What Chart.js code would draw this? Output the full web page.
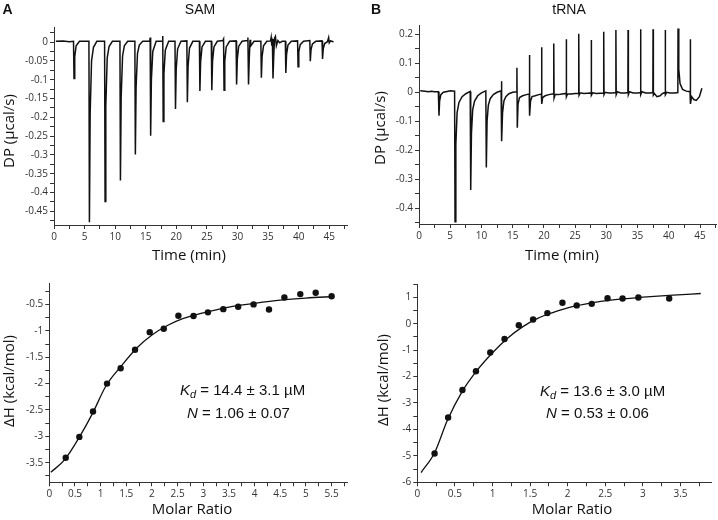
<!DOCTYPE html>
<html>
<head>
<meta charset="utf-8">
<script src="https://cdn.jsdelivr.net/npm/chart.js@4.4.1/dist/chart.umd.min.js"></script>
<style>
  body { margin: 0; background: #fff; }
  #fig { position: relative; width: 718px; height: 520px; overflow: hidden; font-family: 'Open Sans', sans-serif; color: #111; }
  canvas { position: absolute; }
  .lbl { position: absolute; white-space: nowrap; line-height: 1; transform: translate(-50%, -50%); }
  .rot { transform: translate(-50%, -50%) rotate(-90deg); }
  .letter { font-family: 'Liberation Sans', sans-serif; font-weight: bold; font-size: 14px; }
  .head { font-family: 'Liberation Sans', sans-serif; font-size: 14px; }
  .axt { font-size: 15px; }
  .fit { position: absolute; white-space: nowrap; line-height: 1; transform: translateY(-50%); font-family: 'Liberation Sans', sans-serif; font-size: 15px; }
  .fit span { font-size: 11px; position: relative; top: 3px; }
</style>
</head>
<body>
<div id="fig">
  <canvas id="samRaw" width="359" height="260" style="left:0;top:0"></canvas>
  <canvas id="trnaRaw" width="359" height="260" style="left:359px;top:0"></canvas>
  <canvas id="samFit" width="359" height="260" style="left:0;top:260px"></canvas>
  <canvas id="trnaFit" width="359" height="260" style="left:359px;top:260px"></canvas>

  <div class="lbl letter" style="left:7.5px;top:8.5px">A</div>
  <div class="lbl head" style="left:200px;top:8.5px">SAM</div>
  <div class="lbl letter" style="left:376px;top:8.5px">B</div>
  <div class="lbl head" style="left:569px;top:8.5px">tRNA</div>

  <div class="lbl axt rot" style="left:7.5px;top:131px">DP (µcal/s)</div>
  <div class="lbl axt rot" style="left:379px;top:128px">DP (µcal/s)</div>
  <div class="lbl axt" style="left:189px;top:254px">Time (min)</div>
  <div class="lbl axt" style="left:562px;top:254px">Time (min)</div>
  <div class="lbl axt rot" style="left:7.5px;top:381px">ΔH (kcal/mol)</div>
  <div class="lbl axt rot" style="left:382px;top:380px">ΔH (kcal/mol)</div>
  <div class="lbl axt" style="left:192px;top:508px">Molar Ratio</div>
  <div class="lbl axt" style="left:572px;top:508px">Molar Ratio</div>

  <div class="fit" style="left:180px;top:389px"><i>K</i><span><i>d</i></span> = 14.4 ± 3.1 µM</div>
  <div class="fit" style="left:187px;top:412px"><i>N</i> = 1.06 ± 0.07</div>
  <div class="fit" style="left:540px;top:390px"><i>K</i><span><i>d</i></span> = 13.6 ± 3.0 µM</div>
  <div class="fit" style="left:546px;top:412px"><i>N</i> = 0.53 ± 0.06</div>
</div>
<script>
// raw thermogram, SAM titration: [time (min), DP (µcal/s)]
const samTrace = [
  [0.3, 0.002], [1.5, 0.003], [2.5, 0.001], [3.19, 0.002], [3.27, -0.097], [3.39, -0.039], [3.62, -0.01], [4.17, 0.002], [5.0, 0.002],
  [5.71, 0.002], [5.79, -0.479], [5.91, -0.19], [6.14, -0.05], [6.45, -0.014], [7.0, 0.002], [7.6, 0.002],
  [8.27, 0.002], [8.35, -0.424], [8.47, -0.17], [8.7, -0.042], [9.0, -0.012], [9.55, 0.002],
  [10.78, 0.002], [10.86, -0.368], [10.98, -0.147], [11.21, -0.037], [11.5, -0.01], [12.05, 0.002],
  [13.22, 0.002], [13.3, -0.299], [13.42, -0.12], [13.65, -0.03], [13.95, -0.008], [14.5, 0.002],
  [15.65, 0.002], [15.72, 0.012], [15.8, -0.249], [15.92, -0.1], [16.15, -0.025], [16.7, 0.002],
  [17.7, 0.002], [17.78, 0.016], [17.85, -0.211], [17.97, -0.084], [18.2, -0.021], [18.75, 0.002],
  [19.78, 0.002], [19.86, -0.178], [19.98, -0.071], [20.21, -0.018], [20.76, 0.002],
  [21.72, 0.003], [21.8, -0.16], [21.92, -0.064], [22.15, -0.016], [22.7, 0.002],
  [23.77, 0.002], [23.85, -0.13], [23.97, -0.052], [24.2, -0.013], [24.75, 0.002],
  [25.72, 0.002], [25.8, -0.128], [25.92, -0.051], [26.15, -0.013], [26.7, 0.002],
  [27.6, 0.004], [27.72, 0.008], [27.8, -0.128], [27.92, -0.051], [28.15, -0.013], [28.7, 0.002],
  [29.77, 0.003], [29.85, -0.113], [29.97, -0.045], [30.2, -0.011], [30.75, 0.002],
  [31.6, 0.004], [31.7, 0.012], [31.8, -0.113], [31.92, -0.045], [32.05, 0.006], [32.15, -0.011], [32.7, 0.002],
  [33.82, 0.002], [33.9, -0.095], [34.02, -0.038], [34.25, -0.01], [34.8, 0.002],
  [35.4, 0.003], [35.5, 0.012], [35.6, -0.01], [35.7, 0.008], [35.8, -0.097], [35.92, -0.039], [36.05, 0.01], [36.2, 0.015], [36.35, -0.01], [36.6, 0.004], [36.9, -0.002], [37.3, 0.002],
  [37.82, 0.002], [37.9, -0.082], [38.02, -0.033], [38.25, -0.008], [38.8, 0.002],
  [39.82, 0.003], [39.9, -0.066], [40.02, -0.026], [40.25, -0.007], [40.8, 0.002],
  [41.82, 0.004], [41.9, -0.051], [42.02, -0.02], [42.25, -0.005], [42.8, 0.002],
  [43.82, 0.003], [43.9, -0.045], [44.02, -0.018], [44.25, -0.004], [44.7, 0.001], [44.9, 0.012], [45.0, -0.002], [45.2, 0.003], [45.7, 0.001]
];

// raw thermogram, tRNA titration
const trnaTrace = [
  [0.2, 0.005], [1.0, 0.004], [1.5, 0.002], [2.0, 0.004], [2.5, 0.002], [3.1, 0.002],
  [3.2, -0.081], [3.3, -0.03], [3.5, -0.008], [3.9, 0], [4.5, 0.003], [5.0, 0.005], [5.7, 0.004],
  [5.77, -0.446], [5.9, -0.18], [6.1, -0.07], [6.4, -0.035], [6.9, -0.015], [7.5, -0.005], [8.2, 0.003],
  [8.28, -0.337], [8.4, -0.14], [8.6, -0.06], [8.9, -0.03], [9.4, -0.012], [10.0, -0.002], [10.7, 0.005],
  [10.78, -0.259], [10.9, -0.1], [11.1, -0.045], [11.4, -0.022], [11.9, -0.008], [12.5, 0], [13.15, 0.005],
  [13.2, 0.038], [13.26, -0.169], [13.38, -0.07], [13.6, -0.03], [13.9, -0.015], [14.4, -0.005], [15.0, 0], [15.6, 0.002],
  [15.68, 0.085], [15.74, -0.122], [15.86, -0.04], [16.1, -0.018], [16.6, -0.012], [17.2, -0.008], [17.65, -0.006],
  [17.68, 0.129], [17.74, -0.081], [17.86, -0.03], [18.1, -0.015], [18.6, -0.012], [19.2, -0.008], [19.6, -0.006],
  [19.63, 0.155], [19.68, -0.04], [19.8, -0.018], [20.2, -0.012], [20.8, -0.008], [21.55, -0.005],
  [21.58, 0.168], [21.63, -0.02], [21.8, -0.008], [22.3, -0.008], [22.9, -0.006], [23.55, -0.004],
  [23.58, 0.183], [23.63, -0.015], [23.8, -0.005], [24.4, -0.006], [25.0, -0.004], [25.55, -0.003],
  [25.58, 0.202], [25.63, -0.01], [25.8, -0.002], [26.4, -0.004], [27.0, -0.003], [27.55, -0.002],
  [27.58, 0.18], [27.63, -0.01], [27.8, -0.002], [28.4, -0.004], [29.0, -0.003], [29.55, -0.002],
  [29.58, 0.209], [29.63, -0.008], [29.8, 0], [30.4, -0.002], [31.0, -0.002], [31.5, -0.001],
  [31.53, 0.215], [31.58, -0.008], [31.75, 0.002], [32.3, -0.002], [33.0, -0.002], [33.45, -0.001],
  [33.48, 0.215], [33.53, -0.008], [33.7, 0.002], [34.3, -0.002], [35.0, -0.002], [35.45, -0.001],
  [35.48, 0.217], [35.53, -0.008], [35.7, 0.002], [36.3, -0.002], [37.0, -0.002], [37.45, -0.001],
  [37.48, 0.217], [37.53, -0.01], [37.7, -0.004], [38.1, -0.015], [38.6, -0.012], [39.0, -0.004], [39.4, -0.001],
  [39.43, 0.215], [39.48, -0.008], [39.65, 0], [40.2, -0.002], [41.0, -0.002], [41.45, -0.001],
  [41.48, 0.22], [41.6, 0.08], [41.8, 0.03], [42.2, 0.01], [42.8, 0.004], [43.4, 0.002],
  [43.43, 0.183], [43.5, -0.04], [43.65, -0.015], [44.0, -0.025], [44.4, -0.028], [44.9, -0.015], [45.3, 0.014]
];

// integrated heats, SAM
const samRatio = [0.32, 0.585, 0.852, 1.125, 1.39, 1.67, 1.957, 2.23, 2.515, 2.81, 3.09, 3.39, 3.68, 3.98, 4.28, 4.58, 4.89, 5.19, 5.5];
const samHeat = [-3.405, -3.01, -2.53, -2.0, -1.71, -1.36, -1.025, -0.96, -0.715, -0.72, -0.65, -0.59, -0.545, -0.5, -0.595, -0.37, -0.305, -0.28, -0.345];
const samFitRatio = [0.03, 0.3, 0.6, 0.85, 1.1, 1.4, 1.7, 2.0, 2.3, 2.6, 3.0, 3.5, 4.0, 4.5, 5.0, 5.55];
const samFitHeat = [-3.68, -3.44, -2.99, -2.55, -2.05, -1.67, -1.33, -1.08, -0.9, -0.77, -0.66, -0.55, -0.48, -0.42, -0.38, -0.35];

// integrated heats, tRNA
const trnaRatio = [0.23, 0.41, 0.6, 0.78, 0.97, 1.16, 1.35, 1.54, 1.73, 1.93, 2.12, 2.32, 2.53, 2.73, 2.94, 3.35];
const trnaHeat = [-4.91, -3.55, -2.51, -1.8, -1.09, -0.58, -0.06, 0.16, 0.4, 0.79, 0.69, 0.75, 0.96, 0.95, 0.99, 0.95];
const trnaFitRatio = [0.05, 0.23, 0.4, 0.6, 0.8, 1.0, 1.2, 1.4, 1.6, 1.8, 2.0, 2.3, 2.6, 3.0, 3.4, 3.77];
const trnaFitHeat = [-5.63, -4.88, -3.65, -2.55, -1.75, -1.1, -0.55, -0.12, 0.2, 0.42, 0.6, 0.78, 0.9, 1.0, 1.08, 1.14];

const pairs = arr => arr.map(p => ({ x: p[0], y: p[1] }));
const zip = (xs, ys) => xs.map((x, i) => ({ x, y: ys[i] }));

// axis with minor ticks every `step`, labels only every `major`
function axis(min, max, step, major, size, horizontal) {
  return {
    type: 'linear', min: min, max: max,
    border: { color: '#333', width: 1 },
    grid: { drawOnChartArea: false, color: '#333', tickLength: 4 },
    ticks: {
      stepSize: step, autoSkip: false, includeBounds: false, maxRotation: 0, padding: 2,
      color: '#333', font: { family: 'Open Sans', size: 10 },
      callback: v => Math.abs(v / major - Math.round(v / major)) < 1e-6 ? String(+v.toFixed(3)) : ''
    },
    afterFit: s => { if (horizontal) s.height = size; else s.width = size; }
  };
}

function panel(id, datasets, x, y, pad) {
  new Chart(document.getElementById(id), {
    type: 'scatter',
    data: { datasets: datasets },
    options: {
      responsive: false, animation: false,
      layout: { padding: pad },
      plugins: { legend: { display: false }, tooltip: { enabled: false } },
      scales: { x: x, y: y }
    }
  });
}

const lineSet = (data, smooth, width) => ({
  data: data, showLine: true, pointRadius: 0, borderColor: '#111', borderWidth: width || 1.3,
  cubicInterpolationMode: smooth ? 'monotone' : 'default', tension: 0
});
const dotSet = data => ({ data: data, pointRadius: 3.2, backgroundColor: '#111', borderWidth: 0, showLine: false });

// A - SAM thermogram
panel('samRaw', [lineSet(pairs(samTrace), false, 1.5)],
  axis(0, 47.9, 2.5, 5, 35, true), axis(-0.4864, 0.04, 0.025, 0.05, 54, false),
  { top: 27, right: 12, left: 0, bottom: 0 });

// B - tRNA thermogram
panel('trnaRaw', [lineSet(pairs(trnaTrace), false, 1.5)],
  axis(0, 47.56, 2.5, 5, 36, true), axis(-0.454, 0.232, 0.05, 0.1, 60, false),
  { top: 25, right: 2, left: 0, bottom: 0 });

// A - SAM binding isotherm
panel('samFit', [lineSet(zip(samFitRatio, samFitHeat), true), dotSet(zip(samRatio, samHeat))],
  axis(0, 5.8, 0.25, 0.5, 37.7, true), axis(-3.87, -0.1, 0.25, 0.5, 49.3, false),
  { top: 23.3, right: 12, left: 0, bottom: 0 });

// B - tRNA binding isotherm
panel('trnaFit', [lineSet(zip(trnaFitRatio, trnaFitHeat), true), dotSet(zip(trnaRatio, trnaHeat))],
  axis(0, 3.91, 0.25, 0.5, 37.7, true), axis(-6, 1.5, 0.5, 1, 58.3, false),
  { top: 24, right: 6.7, left: 0, bottom: 0 });
</script>
</body>
</html>
